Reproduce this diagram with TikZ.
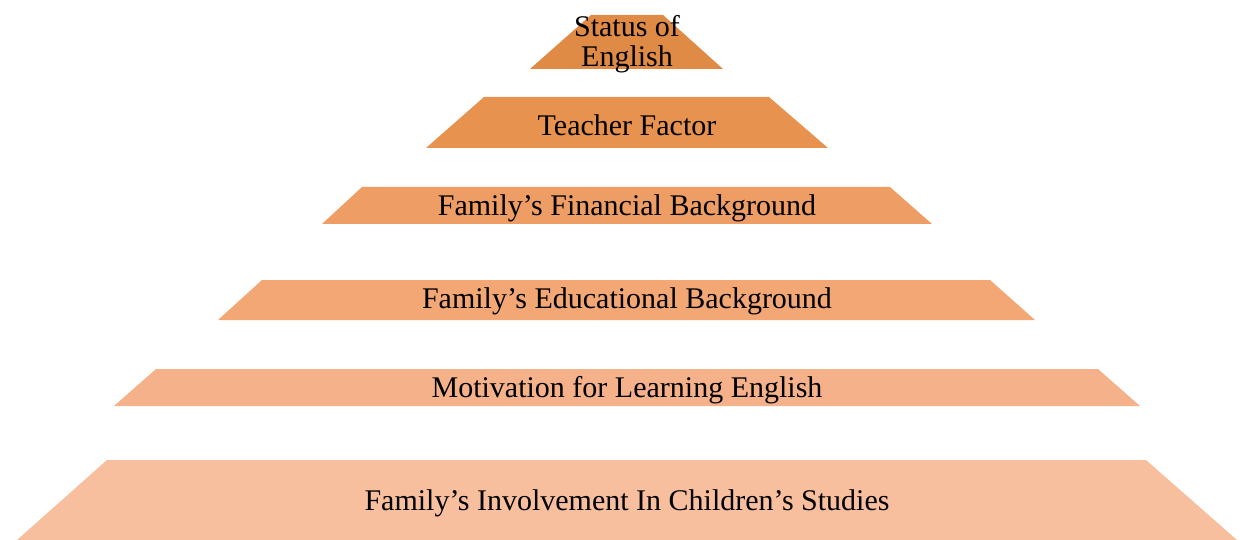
\documentclass[tikz,border=0pt]{standalone}
\usepackage{fontspec}
\setmainfont{Liberation Serif}
\definecolor{c1}{HTML}{DF8A45}
\definecolor{c2}{HTML}{E7924F}
\definecolor{c3}{HTML}{EE9D65}
\definecolor{c4}{HTML}{F2A775}
\definecolor{c5}{HTML}{F5B189}
\definecolor{c6}{HTML}{F8BF9E}
\tikzset{lbl/.style={font=\fontsize{30}{30}\selectfont, text=black, inner sep=0pt, align=center}}
\begin{document}
\begin{tikzpicture}[x=1pt,y=-1pt]
\useasboundingbox (0,0) rectangle (1240,540);
\fill[c1] (530,69) -- (591,15) -- (663,15) -- (723,69) -- cycle;
\fill[c2] (426,148) -- (484,97) -- (769,97) -- (828,148) -- cycle;
\fill[c3] (322,224) -- (362,187) -- (890,187) -- (932,224) -- cycle;
\fill[c4] (218,320) -- (262,280) -- (990,280) -- (1035,320) -- cycle;
\fill[c5] (114,406) -- (156,369) -- (1098,369) -- (1140,406) -- cycle;
\fill[c6] (17,540) -- (107,460) -- (1146,460) -- (1237,540) -- cycle;
\node[lbl] (t1) at (627,44) {Status of\\English};
\node[lbl] (t2) at (627,125) {Teacher Factor};
\node[lbl] (t3) at (627,208) {Family’s Financial Background};
\node[lbl] (t4) at (627,301) {Family’s Educational Background};
\node[lbl] (t5) at (627,390) {Motivation for Learning English};
\node[lbl] (t6) at (627,503) {Family’s Involvement In Children’s Studies};
\end{tikzpicture}
\end{document}
